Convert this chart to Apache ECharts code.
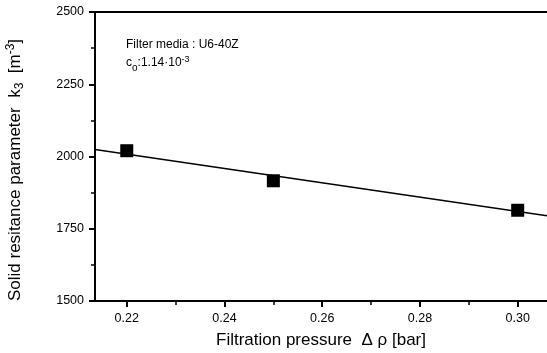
<!DOCTYPE html>
<html>
<head>
<meta charset="utf-8">
<script src="https://cdn.jsdelivr.net/npm/echarts@6/dist/echarts.min.js"></script>
<style>html,body{margin:0;padding:0;background:#fff}#c{width:547px;height:353px}</style>
</head>
<body>
<div id="c"></div>
<script>
// Measured points: filtration pressure [bar] vs solid resistance parameter k3
const pressure = [0.22, 0.25, 0.30];
const k3 = [2020, 1916, 1814];
// Linear fit drawn across the visible pressure range
const fitPressure = [0.2135, 0.306];
const fitK3 = [2024, 1795];
const xTicks = [0.22, 0.24, 0.26, 0.28, 0.30];
const xMinorTicks = [0.23, 0.25, 0.27, 0.29];
const yTicks = [1500, 1750, 2000, 2250, 2500];

const FONT = 'Liberation Sans, Arial, sans-serif';
const X_MIN = 0.2135, X_MAX = 0.306;
const chart = echarts.init(document.getElementById('c'));
chart.setOption({
  animation: false,
  grid: { left: 95, right: 0, top: 12, bottom: 52 },
  xAxis: [{
    type: 'value', min: X_MIN, max: X_MAX,
    axisLine: { show: true, lineStyle: { color: '#000', width: 2 } },
    axisTick: { show: true, length: 6, customValues: xTicks, lineStyle: { color: '#000', width: 2 } },
    axisLabel: { color: '#000', fontFamily: FONT, fontSize: 12.5, margin: 11,
      customValues: xTicks, formatter: v => v.toFixed(2) },
    splitLine: { show: false }
  }, {
    // minor ticks along the bottom edge
    type: 'value', position: 'bottom', min: X_MIN, max: X_MAX,
    axisLine: { show: false },
    axisTick: { show: true, length: 4, customValues: xMinorTicks, lineStyle: { color: '#000', width: 1.5 } },
    axisLabel: { show: false, customValues: xMinorTicks }, splitLine: { show: false }
  }, {
    // top frame line
    type: 'value', position: 'top', min: X_MIN, max: X_MAX,
    axisLine: { show: true, onZero: false, lineStyle: { color: '#000', width: 2 } },
    axisTick: { show: false }, axisLabel: { show: false }, splitLine: { show: false }
  }],
  yAxis: {
    type: 'value', min: 1500, max: 2500, interval: 250,
    axisLine: { show: true, lineStyle: { color: '#000', width: 2 } },
    axisTick: { show: true, length: 6, lineStyle: { color: '#000', width: 2 } },
    minorTick: { show: true, splitNumber: 2, length: 4, lineStyle: { color: '#000', width: 1.5 } },
    axisLabel: { color: '#000', fontFamily: FONT, fontSize: 12.5, margin: 11,
      formatter: v => yTicks.includes(v) ? String(v) : '' },
    splitLine: { show: false }
  },
  graphic: [{
    type: 'text', x: 15, y: 170, rotation: Math.PI / 2,
    style: {
      text: '{t|Solid resitance parameter  k}{sub|3}{t|  [m}{sup|-3}{t|]}',
      align: 'center', verticalAlign: 'middle',
      rich: {
        t: { font: '17px ' + FONT, fill: '#000' },
        sub: { font: '12px ' + FONT, fill: '#000', padding: [10, 0, 0, 0] },
        sup: { font: '12px ' + FONT, fill: '#000', padding: [0, 0, 8, 0] }
      }
    }
  }, {
    type: 'text', x: 321, y: 340,
    style: {
      text: 'Filtration pressure  \u0394 \u03c1 [bar]',
      align: 'center', verticalAlign: 'middle',
      font: '17px ' + FONT, fill: '#000'
    }
  }, {
    type: 'text', left: 126, top: 39,
    style: { text: 'Filter media : U6-40Z', font: '12px ' + FONT, fill: '#000' }
  }, {
    type: 'text', left: 126, top: 55,
    style: {
      text: '{t|c}{sub|o}{t|:1.14\u00b710}{sup|-3}',
      rich: {
        t: { font: '12px ' + FONT, fill: '#000' },
        sub: { font: '10px ' + FONT, fill: '#000', padding: [10, 0, 0, 0] },
        sup: { font: '9px ' + FONT, fill: '#000', padding: [0, 0, 7, 0] }
      }
    }
  }],
  series: [{
    type: 'line', data: fitPressure.map((p, i) => [p, fitK3[i]]),
    symbol: 'none', lineStyle: { color: '#000', width: 1.6 }, z: 2
  }, {
    type: 'scatter', data: pressure.map((p, i) => [p, k3[i]]),
    symbol: 'rect', symbolSize: 13, itemStyle: { color: '#000', opacity: 1 }, z: 3
  }]
});
</script>
</body>
</html>
